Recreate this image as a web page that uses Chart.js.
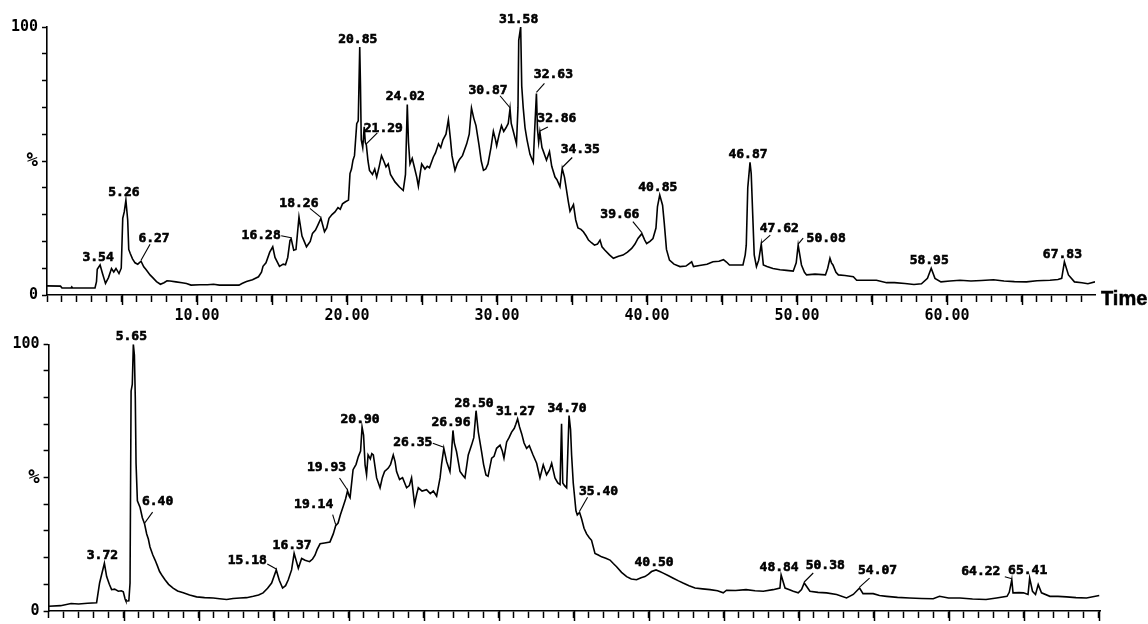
<!DOCTYPE html>
<html>
<head>
<meta charset="utf-8">
<script src="https://cdn.jsdelivr.net/npm/chart.js@4/dist/chart.umd.min.js"></script>
<style>
  html, body { margin: 0; padding: 0; background: #fff; }
  #wrap { position: relative; width: 1148px; height: 624px; overflow: hidden; background: #fff; }
  canvas { position: absolute; left: 0; }
  #top { top: 0; }
  #bottom { top: 326px; }
</style>
</head>
<body>
<div id="wrap">
  <canvas id="top" width="1148" height="326"></canvas>
  <canvas id="bottom" width="1148" height="298"></canvas>
</div>
<script>
// Total ion chromatogram, run 1: [retention time (min), relative abundance (%)]
const topTrace = [
  [0,3.4],[0.9,3.3],[1.0,2.6],[1.6,2.6],[1.65,3.0],[1.7,2.6],[2.6,2.6],[3.2,2.6],[3.3,5],[3.35,9.6],
  [3.54,11.2],[3.7,8],[3.9,4.3],[4.1,6.5],[4.3,9.9],[4.45,8.6],[4.6,9.9],[4.8,8],[4.95,10],[5.05,28.6],
  [5.15,31],[5.26,35.4],[5.38,28],[5.45,17],[5.55,15.5],[5.7,13.5],[5.87,12],[6.05,11.5],[6.27,12.6],[6.45,10.5],
  [6.6,9.5],[6.87,7.5],[7.05,6.5],[7.3,5],[7.56,4],[7.8,4.6],[8.0,5.3],[8.2,5.2],[8.6,4.9],[9.0,4.6],
  [9.3,4.3],[9.6,3.7],[10.2,3.8],[10.7,3.8],[11.1,4.0],[11.5,3.7],[12.2,3.7],[12.8,3.7],[13.0,4.3],[13.3,5.0],
  [13.7,5.7],[14.1,6.8],[14.3,8.5],[14.4,10.7],[14.6,12],[14.85,16],[15.05,18],[15.2,14],[15.5,10.7],[15.75,11.5],
  [15.9,11.3],[16.05,14],[16.2,20.3],[16.28,21],[16.45,16.7],[16.6,17],[16.8,29.1],[17.0,22],[17.15,20],[17.3,18],
  [17.55,20],[17.7,23],[17.9,24.2],[18.05,26],[18.26,28.6],[18.5,23.6],[18.65,25],[18.8,28.6],[19.0,30],[19.2,31],
  [19.4,32.6],[19.55,32],[19.7,34],[19.9,34.8],[20.1,35.4],[20.2,45.3],[20.3,47],[20.4,50.3],[20.5,52],[20.65,63.9],
  [20.75,65],[20.85,92.5],[20.9,78],[20.95,58],[21.05,55],[21.15,62.8],[21.22,57],[21.29,56],[21.4,50],[21.5,46.5],
  [21.7,45],[21.85,47],[21.98,44],[22.15,48],[22.3,52],[22.45,50],[22.6,47.8],[22.75,48.9],[22.9,45],[23.2,42.2],
  [23.5,40.3],[23.75,39],[23.9,45],[24.02,71.1],[24.1,57],[24.2,48.9],[24.35,51],[24.5,47.5],[24.65,44],[24.76,40.6],
  [24.9,46],[24.98,48.9],[25.2,47],[25.35,48],[25.5,47.5],[25.76,51.5],[25.9,53],[26.1,56.4],[26.25,55],[26.4,57.9],
  [26.6,60],[26.76,65.4],[26.9,58],[27.0,52],[27.2,46.5],[27.35,49],[27.5,50.6],[27.7,52],[27.98,56.4],[28.15,60],
  [28.3,69.8],[28.45,66],[28.6,63.2],[28.8,56],[28.95,50],[29.1,46.5],[29.25,47],[29.4,48.9],[29.6,55],[29.76,61.1],
  [29.9,58],[29.98,55.7],[30.15,60],[30.3,63.2],[30.45,61],[30.6,62.4],[30.75,64],[30.87,69.5],[30.95,64],[31.1,60.8],
  [31.3,56.4],[31.4,70],[31.45,95],[31.58,100],[31.65,78],[31.75,69.8],[31.87,62.4],[32.0,58],[32.2,52.5],[32.42,49.5],
  [32.5,60],[32.63,75.2],[32.7,62],[32.78,57],[32.86,60.8],[33.0,55],[33.1,53.5],[33.3,50.3],[33.5,53.5],[33.65,48],
  [33.87,44],[34.0,43],[34.2,40.4],[34.35,47.2],[34.5,44],[34.6,40.4],[34.75,35],[34.87,31.2],[35.1,33.7],[35.25,28],
  [35.4,25],[35.6,24.5],[35.76,23.6],[35.95,22],[36.1,20.5],[36.3,19.5],[36.5,18.6],[36.7,19],[36.87,20.5],[37.0,18],
  [37.2,16.7],[37.5,15],[37.76,13.7],[38.1,14.5],[38.4,14.9],[38.7,16],[38.98,17.4],[39.2,19],[39.4,21.1],[39.66,22.9],
  [39.85,20.5],[39.98,19.2],[40.2,20],[40.4,21.1],[40.6,25],[40.7,33],[40.85,37.3],[41.04,33.5],[41.15,27],[41.3,17],
  [41.5,13],[41.8,11.5],[42.2,10.6],[42.6,10.8],[42.98,12.4],[43.1,10.6],[43.5,11],[44.0,11.5],[44.4,12.4],[44.8,12.6],
  [45.1,13.2],[45.3,12.3],[45.5,11.2],[46.0,11.2],[46.4,11.2],[46.55,15],[46.62,18.6],[46.72,40],[46.87,49.5],[46.95,45.3],
  [47.05,30],[47.15,15],[47.3,10.6],[47.45,13],[47.62,19],[47.76,11.2],[48.0,10.6],[48.4,9.9],[48.87,9.4],[49.3,9.2],
  [49.75,8.9],[49.95,12],[50.08,18.6],[50.3,11.2],[50.5,8.5],[50.64,7.5],[51.2,7.8],[51.9,7.5],[52.05,10],[52.2,13.7],
  [52.3,12],[52.4,11.2],[52.6,8.5],[52.76,7.5],[53.2,7.3],[53.76,6.8],[53.98,5.5],[54.6,5.5],[55.3,5.5],[55.98,4.6],
  [56.5,4.6],[57.2,4.3],[57.8,3.9],[58.3,4.2],[58.7,6.2],[58.95,10],[59.2,6.2],[59.6,4.9],[60.2,5.2],[60.87,5.5],
  [61.6,5.2],[62.3,5.4],[63.1,5.7],[63.8,5.2],[64.5,5.0],[65.3,4.9],[66.0,5.3],[66.87,5.5],[67.4,5.8],[67.65,6.2],
  [67.83,12.4],[68.1,7.5],[68.5,4.9],[69.0,4.6],[69.4,4.2],[69.87,4.9]
];

// Total ion chromatogram, run 2
const bottomTrace = [
  [0,1.8],[0.8,2.0],[1.5,2.8],[2.0,2.6],[2.6,2.9],[3.2,3.1],[3.4,10.5],[3.72,17.9],[3.87,12.9],[4.05,10],
  [4.2,8],[4.4,8.2],[4.65,7.4],[4.85,7.6],[4.98,7.2],[5.1,4.5],[5.16,3.7],[5.35,3.8],[5.43,10.5],[5.5,82.5],
  [5.58,85],[5.65,100],[5.72,96],[5.78,80],[5.83,55.4],[5.92,41.3],[6.1,38.8],[6.25,35],[6.40,32.6],[6.54,28.9],
  [6.65,27],[6.76,24],[6.95,21],[7.1,19.1],[7.25,17],[7.4,14.8],[7.6,13],[7.76,11.7],[8.0,10],[8.3,8.6],
  [8.6,7.5],[8.98,6.8],[9.4,6],[9.87,5.3],[10.4,5.0],[10.98,4.9],[11.4,4.6],[11.87,4.3],[12.3,4.7],[12.76,4.9],
  [13.2,5.0],[13.65,5.5],[14.0,6],[14.3,6.8],[14.6,8.5],[14.87,10.5],[15.18,15.4],[15.38,11.5],[15.6,8.6],[15.8,9.5],
  [15.98,11.7],[16.2,15.4],[16.37,21.6],[16.5,19],[16.65,16],[16.87,19.7],[17.1,19],[17.4,18.5],[17.6,19.5],[17.76,20.9],
  [17.9,23],[18.1,25.2],[18.4,25.5],[18.76,25.9],[18.98,28.9],[19.14,32],[19.3,33],[19.45,36],[19.65,39.4],[19.8,42],
  [19.93,45],[20.05,43],[20.1,42.5],[20.3,53],[20.5,55],[20.65,57.9],[20.8,60],[20.90,69],[21.0,66],[21.1,54.8],
  [21.2,51.1],[21.3,58.5],[21.45,57],[21.55,59],[21.65,58.5],[21.87,49.9],[22.1,46.2],[22.25,50],[22.4,52.3],[22.65,53.6],
  [22.8,55],[22.98,58.5],[23.1,56],[23.2,52.3],[23.4,49.3],[23.6,50],[23.87,46.2],[24.05,47],[24.2,49.9],[24.4,40],
  [24.55,44],[24.65,46.2],[24.9,45],[25.2,45.5],[25.45,44],[25.65,45],[25.87,43.1],[26.1,49.9],[26.2,55],[26.35,61],
  [26.54,56],[26.76,52.3],[26.85,58],[26.96,67.7],[27.05,63],[27.2,59.7],[27.43,52.3],[27.6,51],[27.76,49.9],[27.98,58.5],
  [28.2,62.2],[28.35,65],[28.50,75.1],[28.65,67.1],[28.87,59.7],[29.0,55],[29.16,51],[29.3,50.5],[29.54,57.3],[29.7,58],
  [29.87,61],[30.1,62.2],[30.25,60],[30.36,57.3],[30.54,63.4],[30.7,65],[30.87,67.1],[31.05,68.5],[31.15,70],[31.27,72],
  [31.4,69],[31.54,66.5],[31.7,63],[31.87,61],[32.05,62],[32.3,58.5],[32.54,55.4],[32.76,49.9],[32.98,54.8],[33.2,51.1],
  [33.4,53],[33.54,55.4],[33.76,49.9],[33.95,48],[34.1,47.4],[34.2,70.2],[34.28,48],[34.4,47],[34.54,46.2],[34.62,60],
  [34.70,73.3],[34.8,68],[34.87,58.5],[34.98,48],[35.16,37.6],[35.25,36],[35.40,37],[35.54,34.5],[35.7,31],[35.87,28.9],
  [36.05,27.5],[36.2,26.5],[36.43,21.6],[36.65,21],[36.87,20.3],[37.15,19.8],[37.43,19.1],[37.65,17.8],[37.87,16.6],[38.2,14.5],
  [38.54,12.9],[38.85,12],[39.2,11.7],[39.5,12.5],[39.76,12.9],[40.0,13.8],[40.2,14.8],[40.5,15.4],[40.75,14.8],[40.98,14.2],
  [41.3,13.3],[41.65,12.3],[42.0,11.3],[42.3,10.5],[42.7,9.5],[43.1,8.6],[43.6,8.3],[44.1,8],[44.6,7.6],[44.98,6.8],
  [45.2,7.8],[45.8,7.7],[46.5,8],[47.1,7.6],[47.65,7.4],[48.3,8],[48.76,8.6],[48.84,13.5],[49.1,8.6],[49.4,8.0],
  [49.65,7.4],[49.98,6.8],[50.2,8.0],[50.38,10.5],[50.76,7.4],[51.3,7.0],[51.87,6.8],[52.54,6.2],[53.2,4.9],[53.65,6.2],
  [54.07,8.6],[54.3,6.5],[54.98,6.5],[55.4,5.8],[55.87,5.5],[56.6,5.1],[57.4,4.9],[58.2,4.7],[58.98,4.6],[59.4,5.5],
  [60.0,4.9],[60.76,4.9],[61.6,4.5],[62.5,4.3],[63.2,4.9],[63.9,5.5],[64.05,7],[64.22,11.7],[64.3,6.8],[64.7,6.9],
  [65.0,6.8],[65.3,6.2],[65.41,12.3],[65.6,7.4],[65.8,6.2],[65.98,9.9],[66.2,6.8],[66.76,5.5],[67.3,5.5],[67.87,5.3],
  [68.5,5.0],[69.2,4.9],[70.05,5.8]
];

// Retention times of the annotated peaks
const topPeaks = [3.54, 5.26, 6.27, 16.28, 18.26, 20.85, 21.29, 24.02, 30.87, 31.58, 32.63, 32.86,
                  34.35, 39.66, 40.85, 46.87, 47.62, 50.08, 58.95, 67.83];
const bottomPeaks = [3.72, 5.65, 6.40, 15.18, 16.37, 19.14, 19.93, 20.90, 26.35, 26.96, 28.50, 31.27,
                     34.70, 35.40, 40.50, 48.84, 50.38, 54.07, 64.22, 65.41];

// Y-axis tick labels
const yTickText = { 0: '0', 50: '%', 100: '100' };

// Annotation placement: [label dx, label dy, leader dx, leader dy] relative to the peak apex
const topLabelPlacement = {
  '6.27': [13, -19, 9, -17], '16.28': [-30, 0, -10, -3], '18.26': [-22, -11, -11, -10],
  '21.29': [17, -13, 11, -12], '30.87': [-22, -15, -10, -13], '32.63': [17, -15, 8, -10],
  '32.86': [17, -10, 8, -5], '34.35': [18, -16, 10, -11], '39.66': [-22, -16, -9, -12],
  '47.62': [18, -12, 9, -9], '50.08': [28, -3, 5, -7]
};
const bottomLabelPlacement = {
  '6.40': [13, -19, 8, -12], '15.18': [-29, -6, -9, -6], '19.14': [-22, -18, -3, -11],
  '19.93': [-21, -20, -8, -13], '26.35': [-31, -2, -11, -5], '35.40': [19, -17, 8, -15],
  '50.38': [21, -14, 9, -10], '54.07': [18, -14, 10, -10], '64.22': [-31, -5, -7, -3]
};

const INK = '#000';
const MONO = '"DejaVu Sans Mono", "Liberation Mono", monospace';

// Peak annotations, long ticks every 5 min and the "Time" caption
const chromPlugin = {
  id: 'chrom',
  afterDraw(chart, args, opts) {
    const ctx = chart.ctx;
    const xs = chart.scales.x, ys = chart.scales.y;
    const pts = chart.data.datasets[0].data;
    ctx.save();
    // longer tick marks at every 5 minutes
    ctx.strokeStyle = INK;
    ctx.lineWidth = 1.5;
    const axisY = chart.chartArea.bottom;
    for (let t = 5; t < xs.max; t += 5) {
      const px = Math.round(xs.getPixelForValue(t)) + 0.5;
      ctx.beginPath();
      ctx.moveTo(px, axisY);
      ctx.lineTo(px, axisY + 10);
      ctx.stroke();
    }
    // peak labels
    ctx.font = 'bold 13px ' + MONO;
    ctx.fillStyle = INK;
    ctx.textAlign = 'center';
    ctx.textBaseline = 'alphabetic';
    opts.peaks.forEach(t => {
      const p = pts.find(d => Math.abs(d.x - t) < 1e-9);
      if (!p) return;
      const px = xs.getPixelForValue(p.x);
      const py = ys.getPixelForValue(p.y);
      const key = t.toFixed(2);
      const pl = opts.placement[key] || [-2, -4, null, null];
      ctx.lineWidth = 0.6;
      ctx.fillText(key, px + pl[0], py + pl[1]);
      ctx.strokeText(key, px + pl[0], py + pl[1]);
      if (pl[2] !== null) {
        ctx.lineWidth = 1.1;
        ctx.beginPath();
        ctx.moveTo(px + pl[2], py + pl[3]);
        ctx.lineTo(px, py - 1);
        ctx.stroke();
      }
    });
    if (opts.caption) {
      ctx.font = 'bold 20px "Liberation Sans", Arial, sans-serif';
      ctx.textAlign = 'left';
      ctx.lineWidth = 0.5;
      ctx.fillText(opts.caption, chart.chartArea.right + 6, axisY + 10);
      ctx.strokeText(opts.caption, chart.chartArea.right + 6, axisY + 10);
    }
    ctx.restore();
  }
};

function makeChart(id, trace, peaks, placement, layout) {
  return new Chart(document.getElementById(id), {
    type: 'line',
    data: {
      datasets: [{
        data: trace.map(([t, v]) => ({ x: t, y: v })),
        borderColor: INK,
        borderWidth: 1.6,
        pointRadius: 0,
        tension: 0,
        fill: false
      }]
    },
    options: {
      responsive: false,
      animation: false,
      events: [],
      layout: { padding: { top: layout.padTop, right: layout.padRight, left: 0, bottom: 0 } },
      plugins: {
        legend: { display: false },
        tooltip: { enabled: false },
        chrom: { peaks, placement, caption: layout.caption }
      },
      scales: {
        x: {
          type: 'linear',
          min: 0,
          max: layout.xMax,
          afterFit: s => { s.height = layout.xHeight; },
          border: { display: true, color: INK, width: 1.6 },
          grid: { drawOnChartArea: false, drawTicks: true, tickLength: 7, tickColor: INK, tickWidth: 1.5 },
          ticks: {
            stepSize: 1,
            includeBounds: false,
            autoSkip: false,
            maxRotation: 0,
            padding: 5,
            color: INK,
            font: { family: MONO, weight: 'bold', size: 15 },
            callback: v => (v > 0 && v % 10 === 0) ? v.toFixed(2) : ''
          }
        },
        y: {
          min: 0,
          max: 100,
          afterFit: s => { s.width = layout.yWidth; },
          border: { display: true, color: INK, width: 1.6 },
          grid: { drawOnChartArea: false, drawTicks: true, tickLength: 5, tickColor: INK, tickWidth: 1.5 },
          ticks: {
            stepSize: 10,
            autoSkip: false,
            padding: 4,
            color: INK,
            font: c => ({ family: MONO, weight: 'bold', size: (c.tick && c.tick.value === 50) ? 19 : 15 }),
            callback: v => (v in yTickText) ? yTickText[v] : ''
          }
        }
      }
    },
    plugins: [chromPlugin]
  });
}

makeChart('top', topTrace, topPeaks, topLabelPlacement,
  { padTop: 27, padRight: 53, xHeight: 31, yWidth: 47, xMax: 69.87, caption: 'Time' });
makeChart('bottom', bottomTrace, bottomPeaks, bottomLabelPlacement,
  { padTop: 18.3, padRight: 48, xHeight: 9, yWidth: 48.6, xMax: 70.1, caption: '' });
</script>
</body>
</html>
